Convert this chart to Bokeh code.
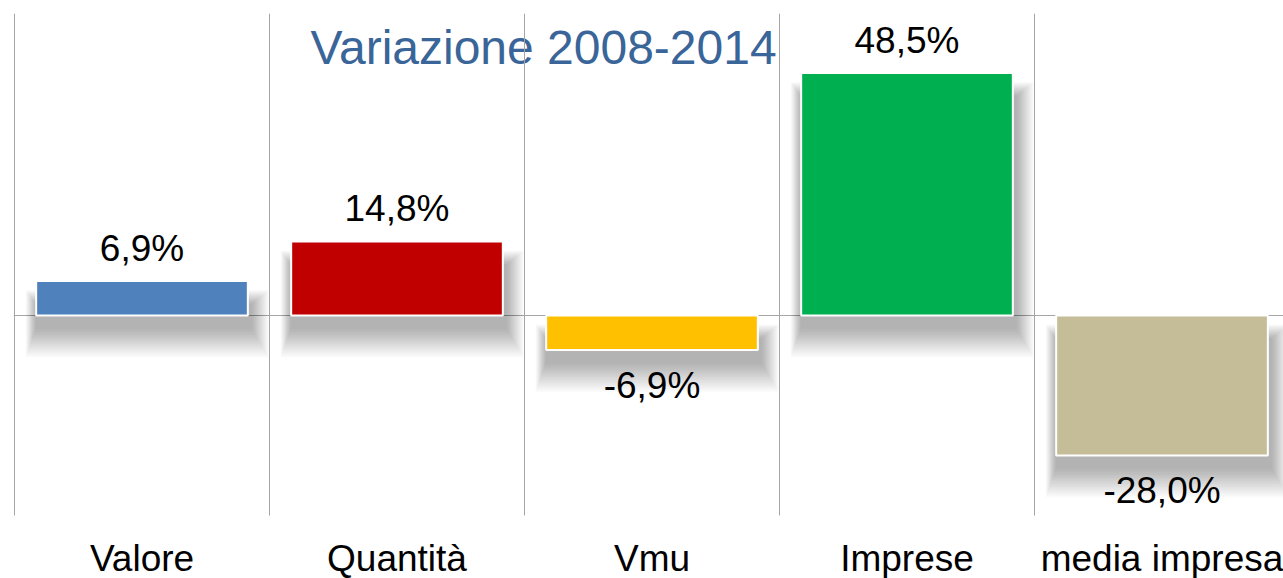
from bokeh.plotting import figure
from bokeh.models import Range1d, FixedTicker, ColumnDataSource
from bokeh.core.properties import value
from bokeh.embed import file_html
from bokeh.resources import INLINE

categories = ["Valore", "Quantità", "Vmu", "Imprese", "media impresa"]
values = [6.9, 14.8, -6.9, 48.5, -28.0]
labels = ["6,9%", "14,8%", "-6,9%", "48,5%", "-28,0%"]
colors = ["#4F81BD", "#C00000", "#FFC000", "#00B050", "#C4BD97"]
title_text = "Variazione 2008-2014"

W, H = 1283, 578
LEFT, TOP = 13, 13
PX_X = 1.0 / 255.0   # category units per pixel
PX_Y = 0.2           # percent per pixel

x0 = -PX_X
x1 = x0 + (W - LEFT) * PX_X
grid_bottom, y1 = -40.0, 60.4
y0 = y1 - (H - TOP) * PX_Y

p = figure(width=W, height=H, output_backend="svg", toolbar_location=None,
           x_range=Range1d(x0, x1), y_range=Range1d(y0, y1),
           min_border_left=LEFT, min_border_right=0, min_border_top=TOP,
           min_border_bottom=0, outline_line_color=None,
           background_fill_color="white", border_fill_color="white")
p.xgrid.visible = False
p.yaxis.visible = False
p.xaxis.visible = False

centers = [i + 0.5 for i in range(len(categories))]
bounds = list(range(len(categories) + 1))
bw = 0.83
lefts = [c - bw / 2 for c in centers]
rights = [c + bw / 2 for c in centers]
bottoms = [min(0, v) for v in values]
tops = [max(0, v) for v in values]

# zero line
p.ygrid.ticker = FixedTicker(ticks=[0])
p.ygrid.grid_line_color = "#A6A6A6"
p.ygrid.grid_line_width = 1

# soft drop shadows (stacked translucent layers)
N = 20
for k in range(1, N + 1):
    e = k * 1.5
    p.quad(left=[l - e * 0.35 * PX_X for l in lefts],
           right=[r + (e * 0.6 + 3) * PX_X for r in rights],
           bottom=[b - (12 + e) * PX_Y for b in bottoms],
           top=[t - (24 - e * 0.5) * PX_Y for t in tops],
           fill_color="black", fill_alpha=0.017, line_color=None)

src = ColumnDataSource(dict(left=lefts, right=rights, bottom=bottoms, top=tops,
                            color=colors, x=centers, y=values, label=labels,
                            yoff=[-33 if v > 0 else 35 for v in values]))

p.quad(left="left", right="right", bottom="bottom", top="top", source=src,
       fill_color="color", line_color="white", line_width=2)

p.text(x="x", y="y", text="label", source=src, y_offset="yoff",
       text_align="center", text_baseline="middle",
       text_font=value("Liberation Sans"), text_font_size="37px", text_color="#000000")

# title inside plot area
p.text(x=[x0 + (310 - LEFT) * PX_X], y=[(315 - 47) * PX_Y], text=[title_text],
       text_align="left", text_baseline="middle",
       text_font=value("Liberation Sans"), text_font_size="48px", text_color="#3A6599")

# category labels below the bars
cat_src = ColumnDataSource(dict(x=centers, y=[grid_bottom] * len(centers), name=categories))
p.text(x="x", y="y", text="name", source=cat_src, y_offset=43,
       text_align="center", text_baseline="middle",
       text_font=value("Liberation Sans"), text_font_size="37px", text_color="#000000")

# vertical category separators (drawn on top, as in the original)
p.segment(x0=bounds, x1=bounds, y0=[grid_bottom] * len(bounds), y1=[y1] * len(bounds),
          line_color="#A6A6A6", line_width=1)

open("out.html", "w").write(file_html(p, INLINE))
